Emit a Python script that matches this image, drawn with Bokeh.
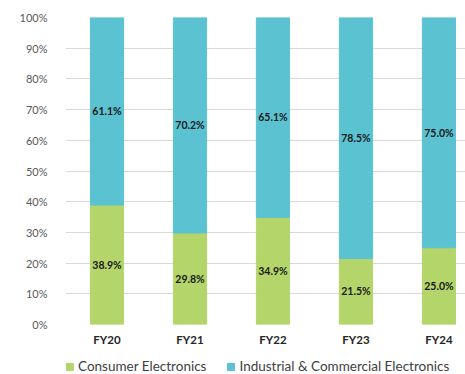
from bokeh.plotting import figure
from bokeh.layouts import column
from bokeh.models import ColumnDataSource, Legend, LegendItem, FixedTicker, Range1d, LabelSet
from bokeh.core.properties import value
from bokeh.embed import file_html
from bokeh.resources import INLINE

years = ["FY20", "FY21", "FY22", "FY23", "FY24"]
consumer = [38.9, 29.8, 34.9, 21.5, 25.0]
industrial = [61.1, 70.2, 65.1, 78.5, 75.0]
series_names = ["Consumer Electronics", "Industrial & Commercial Electronics"]
y_ticks = [0, 10, 20, 30, 40, 50, 60, 70, 80, 90, 100]

GREEN = "#b3d56a"
CYAN = "#5bc2d2"
FONT = "Lato"

xs = list(range(len(years)))
src = ColumnDataSource(dict(
    x=xs,
    c_top=consumer,
    i_top=[a + b for a, b in zip(consumer, industrial)],
    c_mid=[a / 2 for a in consumer],
    i_mid=[a + b / 2 for a, b in zip(consumer, industrial)],
    c_lab=[f"{v:.1f}%" for v in consumer],
    i_lab=[f"{v:.1f}%" for v in industrial],
))

p = figure(width=465, height=348, output_backend="svg", toolbar_location=None,
           x_range=Range1d(-0.5, 4.32), y_range=Range1d(0, 100),
           min_border_left=65, min_border_right=0, min_border_top=17, min_border_bottom=23)
p.outline_line_color = None
p.background_fill_color = "white"

p.vbar(x="x", bottom=0, top="c_top", width=0.4, color=GREEN, source=src)
p.vbar(x="x", bottom="c_top", top="i_top", width=0.4, color=CYAN, source=src)

for ycol, tcol in (("c_mid", "c_lab"), ("i_mid", "i_lab")):
    p.add_layout(LabelSet(x="x", y=ycol, text=tcol, source=src, text_align="center",
                          text_baseline="middle", text_font=value(FONT), text_font_style="bold",
                          text_font_size="10.5px", text_color="#1a1a1a"))

p.xgrid.grid_line_color = None
p.ygrid.grid_line_color = "#d9d9d9"
p.ygrid.ticker = FixedTicker(ticks=y_ticks)

p.yaxis.ticker = FixedTicker(ticks=y_ticks)
p.yaxis.major_label_overrides = {t: f"{t}%" for t in y_ticks}
p.yaxis.axis_line_color = None
p.yaxis.major_tick_line_color = None
p.yaxis.minor_tick_line_color = None
p.yaxis.major_label_text_font = FONT
p.yaxis.major_label_text_font_size = "11px"
p.yaxis.major_label_text_color = "#595959"
p.yaxis.major_label_standoff = 12

p.xaxis.ticker = FixedTicker(ticks=xs)
p.xaxis.major_label_overrides = {i: y for i, y in enumerate(years)}
p.xaxis.axis_line_color = None
p.xaxis.major_tick_line_color = None
p.xaxis.minor_tick_line_color = None
p.xaxis.major_tick_out = 0
p.xaxis.major_tick_in = 0
p.xaxis.major_label_text_font = FONT
p.xaxis.major_label_text_font_style = "bold"
p.xaxis.major_label_text_font_size = "11.5px"
p.xaxis.major_label_text_color = "#262626"
p.xaxis.major_label_standoff = 8

# legend strip (its glyphs reuse the data, kept far outside the visible ranges)
q = figure(width=465, height=26, output_backend="svg", toolbar_location=None,
           x_range=Range1d(1000, 1001), y_range=Range1d(1000, 1001),
           x_axis_location=None, y_axis_location=None,
           min_border_left=0, min_border_right=0, min_border_top=0, min_border_bottom=0)
q.grid.visible = False
q.outline_line_color = None
g1 = q.vbar(x="x", bottom=0, top="c_top", width=0.4, color=GREEN, source=src)
g2 = q.vbar(x="x", bottom="c_top", top="i_top", width=0.4, color=CYAN, source=src)
legend = Legend(items=[LegendItem(label=series_names[0], renderers=[g1]),
                       LegendItem(label=series_names[1], renderers=[g2])],
                orientation="horizontal", location=(0, 0),
                label_text_font=FONT, label_text_font_size="13.5px", label_text_color="#404040",
                glyph_width=9, glyph_height=9, spacing=20, padding=0, margin=0,
                label_standoff=4, border_line_color=None, background_fill_alpha=0)
q.add_layout(legend, "center")

open("out.html", "w").write(file_html(column(p, q, spacing=0), INLINE))
